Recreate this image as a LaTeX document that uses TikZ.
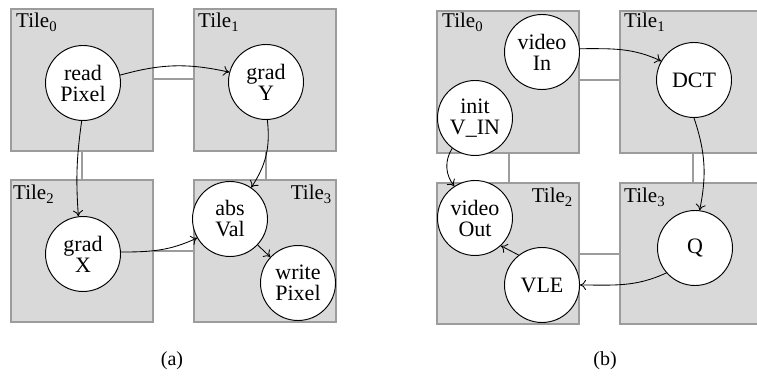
\documentclass[tikz,border=0pt]{standalone}
\usepackage{fontspec}
\setmainfont{Liberation Serif}
\usetikzlibrary{arrows.meta}
\definecolor{tilefill}{HTML}{D9D9D9}
\definecolor{tileline}{HTML}{9C9C9C}
\begin{document}
\begin{tikzpicture}[x=1pt,y=1pt,
  tilebox/.style={draw=tileline,fill=tilefill,line width=1.1pt},
  link/.style={draw=tileline,line width=1.1pt},
  task/.style={circle,draw=black,fill=white,line width=0.95pt,minimum size=75pt,
    inner sep=0pt,align=center,font=\fontsize{22}{21}\selectfont},
  tilelabel/.style={inner sep=0pt,font=\fontsize{21}{21}\selectfont},
  caption/.style={inner sep=0pt,font=\fontsize{20}{20}\selectfont},
  flow/.style={draw=black,line width=0.85pt,-{To[length=6pt,width=10pt]}}]
\useasboundingbox (0,0) rectangle (757,375);

% ---------- (a) ----------
\draw[link] (82,224) -- (82,195);
\draw[link] (266,224) -- (266,195);
\draw[link] (153,296) -- (194,296);
\draw[link] (153,124) -- (194,124);
\path[tilebox] (11,224) rectangle (153,366);
\path[tilebox] (194,224) rectangle (336,366);
\path[tilebox] (11,53) rectangle (153,195);
\path[tilebox] (194,53) rectangle (336,195);
\node[tilelabel,anchor=base west] (a0) at (16,347) {Tile\textsubscript{0}};
\node[tilelabel,anchor=base west] (a1) at (198,347) {Tile\textsubscript{1}};
\node[tilelabel,anchor=base west] (a2) at (13,175) {Tile\textsubscript{2}};
\node[tilelabel,anchor=base east] (a3) at (332,175) {Tile\textsubscript{3}};

\node[task] (readPixel) at (83,292) {read\\Pixel};
\node[task] (gradY) at (266,293) {grad\\Y};
\node[task] (gradX) at (83,121) {grad\\X};
\node[task] (absVal) at (230,156) {abs\\Val};
\node[task] (writePixel) at (298,92) {write\\Pixel};

\draw[flow] (readPixel.12) to[bend left=14] (gradY.165);
\draw[flow] (readPixel.268) to[bend right=6] (gradX.97);
\draw[flow] (gradY.-88) to[bend left=20] (absVal.56);
\draw[flow] (gradX.3) to[out=0,in=205] (absVal.210);
\draw[flow] (absVal) -- (writePixel);

\node[caption,anchor=base] (capa) at (172,10) {(a)};

% ---------- (b) ----------
\draw[link] (509,222) -- (509,192);
\draw[link] (693,222) -- (693,192);
\draw[link] (579,295) -- (620,295);
\draw[link] (579,121) -- (620,121);
\path[tilebox] (437,222) rectangle (579,364);
\path[tilebox] (620,222) rectangle (762,364);
\path[tilebox] (437,51) rectangle (579,192);
\path[tilebox] (620,51) rectangle (762,192);
\node[tilelabel,anchor=base west] (b0) at (442,347) {Tile\textsubscript{0}};
\node[tilelabel,anchor=base west] (b1) at (624,347) {Tile\textsubscript{1}};
\node[tilelabel,anchor=base east] (b2) at (573,172) {Tile\textsubscript{2}};
\node[tilelabel,anchor=base west] (b3) at (624,172) {Tile\textsubscript{3}};

\node[task] (videoIn) at (542,323) {video\\In};
\node[task] (DCT) at (694,295) {DCT};
\node[task] (initVIN) at (475,257) {init\\V\_IN};
\node[task] (videoOut) at (475,157) {video\\Out};
\node[task] (Q) at (695,127) {Q};
\node[task] (VLE) at (542,90) {VLE};

\draw[flow] (videoIn.5) to[out=0,in=155] (DCT.150);
\draw[flow] (initVIN.233) to[bend right=35] (videoOut.123);
\draw[flow] (DCT.-90) to[bend left=15] (Q.83);
\draw[flow] (Q.221) to[out=205,in=0] (VLE.0);
\draw[flow] (VLE.128) -- (videoOut.-47);

\node[caption,anchor=base] (capb) at (605,10) {(b)};
\end{tikzpicture}
\end{document}
